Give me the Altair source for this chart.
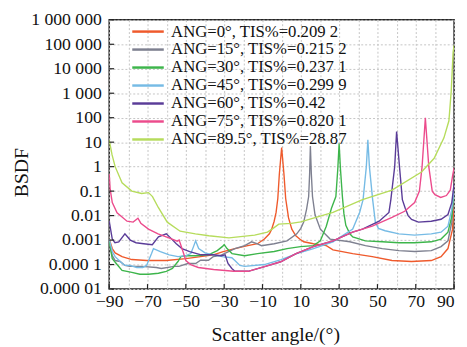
import altair as alt
import pandas as pd

# ---------------- data ----------------
series_labels = [
    "ANG=0°, TIS%=0.209 2",
    "ANG=15°, TIS%=0.215 2",
    "ANG=30°, TIS%=0.237 1",
    "ANG=45°, TIS%=0.299 9",
    "ANG=60°, TIS%=0.42",
    "ANG=75°, TIS%=0.820 1",
    "ANG=89.5°, TIS%=28.87",
]
series_colors = ["#EF5A2C", "#7E8090", "#3DB54B", "#76BBE5", "#5A3C98", "#EC4B8C", "#B6DC5C"]

ang0_x = [-90, -88.4, -86.9, -83.3, -78.2, -70.5, -60.2, -50, -42.3, -35.7, -30.5, -24.4, -17.7, -12.6, -9,
          -6.4, -5.2, -3.9, -2.9, -2, -1.2, 0, 1.2, 2.1, 3.6, 5.3, 7.4, 9.4, 11.5, 16.6, 23.3, 26.8, 37.1,
          47.3, 57.6, 67.8, 78.1, 83.2, 86.8, 89.2, 90]
ang0_y = [0.0011, 0.00045, 0.0003, 0.00021, 0.00016, 0.000146, 0.000146, 0.000175, 0.00021, 0.00025, 0.00034,
          0.00045, 0.00059, 0.00071, 0.0011, 0.0018, 0.0028, 0.0059, 0.0135, 0.05, 0.5, 6, 0.5, 0.05, 0.008,
          0.0028, 0.0015, 0.0011, 0.00085, 0.00071, 0.00059, 0.0004, 0.00028, 0.00021, 0.000146, 0.000133,
          0.000146, 0.00021, 0.00045, 0.0028, 0.034]

ang15_x = [-90, -88.4, -86.9, -84.3, -81.8, -79.2, -73.1, -65.4, -62.8, -56.1, -53.6, -49, -44.9, -42.3, -38.2,
           -35.7, -32.1, -24.4, -19.3, -15.7, -12.6, -10.5, -3.9, 2.8, 7.9, 10, 11.5, 13, 14.1, 14.6, 15, 15.5,
           16.1, 17.4, 20.2, 25.3, 35.6, 43.7, 52.5, 61.2, 69.4, 78.1, 83.2, 86.8, 88.8, 90]
ang15_y = [0.0008, 0.00023, 0.000146, 0.000133, 9.2e-5, 8.4e-5, 8.4e-5, 7.6e-5, 6.9e-5, 8.4e-5, 8.4e-5, 0.00011,
           0.00011, 0.00015, 0.00015, 0.00021, 0.00023, 0.00045, 0.00059, 0.00085, 0.0007, 0.00059, 0.00071,
           0.00093, 0.0018, 0.003, 0.0054, 0.018, 0.06, 0.5, 7, 0.5, 0.06, 0.011, 0.0028, 0.0011, 0.00085,
           0.00059, 0.00045, 0.00037, 0.00034, 0.00037, 0.00054, 0.00093, 0.0054, 0.1]

ang30_x = [-90, -88.4, -85.9, -83.3, -78.2, -74, -69.5, -64.3, -60.2, -57, -54.1, -52.6, -50, -44.9, -38.2,
           -33.6, -31, -30, -28.5, -25.9, -19.3, -12.6, -3.9, 2.8, 9.9, 16.6, 20.2, 23.3, 26, 28.3, 29.3, 30,
           30.7, 31.7, 32.5, 33.5, 35.6, 37.1, 43.7, 52.5, 61.2, 69.4, 78.1, 83.2, 86.8, 88.8, 90]
ang30_y = [0.0009, 0.000175, 0.0001, 5.8e-5, 4.8e-5, 4e-5, 4e-5, 4.4e-5, 5.3e-5, 6.9e-5, 0.000133, 0.00021,
           0.00023, 0.00023, 0.00025, 0.00037, 0.00054, 0.00065, 0.00045, 0.00028, 0.00023, 0.00028, 0.00034,
           0.00045, 0.00054, 0.00059, 0.00093, 0.0037, 0.02, 0.06, 0.8, 8.7, 0.8, 0.06, 0.012, 0.004, 0.0018,
           0.00135, 0.00093, 0.00085, 0.00078, 0.00078, 0.00085, 0.0011, 0.0021, 0.0093, 0.115]

ang45_x = [-90, -88.4, -86.9, -84.3, -81.8, -79.2, -75.6, -72.5, -70.5, -67.9, -66.9, -63.3, -58.7, -54.1, -50,
           -47.4, -46, -44.9, -43.3, -40, -35.7, -31, -26, -24.4, -21.8, -19.3, -9, -0.3, 7.9, 16.6, 26.8, 37.1,
           40.7, 42.5, 44.2, 45, 45.8, 47.5, 48.9, 50.5, 54, 61.2, 69.4, 78.1, 83.2, 86.8, 88.8, 90]
ang45_y = [0.0011, 0.00034, 0.00021, 0.000133, 9.2e-5, 9.2e-5, 7.6e-5, 7.6e-5, 9.2e-5, 0.00028, 0.00045,
           0.00034, 0.00025, 0.00021, 0.00023, 0.00028, 0.00054, 0.00093, 0.00045, 0.0003, 0.00025, 0.00021,
           0.00019, 0.000146, 9.2e-5, 8.4e-5, 0.0001, 0.00016, 0.00028, 0.00045, 0.00085, 0.0028, 0.0135, 0.045,
           1, 12.6, 1, 0.045, 0.0054, 0.003, 0.0024, 0.0018, 0.0016, 0.0018, 0.0021, 0.0037, 0.018, 0.115]

ang60_x = [-90, -88.4, -87, -85, -81.8, -79, -76, -72, -67.5, -64.3, -60.2, -58, -55, -52, -48, -42, -35.7,
           -31.5, -29.5, -28, -26, -24.4, -17.5, -8.5, -0.5, 7.5, 16.5, 26.8, 37, 42.2, 50.9, 56, 57, 59, 60,
           61.5, 63, 64.5, 66, 67.8, 71.4, 78.1, 83.2, 86.8, 88.8, 90]
ang60_y = [0.006, 0.0011, 0.00078, 0.00085, 0.0018, 0.001, 0.00078, 0.00071, 0.00065, 0.00135, 0.0018, 0.00123,
           0.00071, 0.00045, 0.00034, 0.00025, 0.00025, 0.00023, 0.00025, 0.00011, 6.9e-5, 5.3e-5, 5.3e-5,
           8.4e-5, 0.00013, 0.00028, 0.00054, 0.00093, 0.0021, 0.0028, 0.0059, 0.0135, 0.045, 1, 27, 1, 0.045,
           0.02, 0.01, 0.007, 0.0054, 0.0059, 0.0071, 0.011, 0.034, 0.2]

ang75_x = [-90, -89.5, -88.4, -85.9, -80.7, -77.5, -75, -73.5, -69.5, -64.5, -58.5, -54.5, -53.5, -51.5, -50,
           -47.5, -43.5, -35.5, -25, -17.5, -8.5, -0.5, 7.5, 16.5, 26.8, 37, 47.3, 57.6, 64.2, 69.4, 71.9, 73.3,
           75, 76.8, 78.6, 80, 83, 86, 88, 89.3, 90]
ang75_y = [0.5, 0.12, 0.034, 0.013, 0.0059, 0.0054, 0.0078, 0.0049, 0.0028, 0.0018, 0.0012, 0.0009, 0.001,
           0.00034, 0.000146, 0.0001, 7.6e-5, 6.3e-5, 5.3e-5, 5.3e-5, 8.4e-5, 0.00013, 0.00028, 0.00054, 0.00093,
           0.0021, 0.0037, 0.0085, 0.015, 0.034, 0.1, 1, 98, 1, 0.1, 0.072, 0.055, 0.066, 0.11, 0.46, 0.9]

ang895_x = [-90, -88.5, -86.9, -83.3, -78.2, -73.1, -69.5, -67.4, -64.3, -59.7, -53, -45, -38, -27.5, -14.1,
            -7.4, -5, -1.5, 5, 10, 13, 26.8, 42.2, 57.6, 73, 79.6, 84.7, 87.3, 88.5, 89.5, 90]
ang895_y = [12, 3, 1, 0.22, 0.1, 0.08, 0.087, 0.06, 0.021, 0.0054, 0.0023, 0.0018, 0.0015, 0.00123, 0.0016,
            0.0021, 0.0028, 0.0045, 0.0048, 0.0055, 0.0065, 0.0135, 0.045, 0.11, 0.6, 2.2, 15, 75, 1200, 48000,
            90000]

x_grid_values = [-90, -80, -70, -60, -50, -40, -30, -20, -10, 0, 10, 20, 30, 40, 50, 60, 70, 80, 90]
x_tick_values = [-90, -70, -50, -30, -10, 10, 30, 50, 70, 90]
y_tick_values = [1e-5, 1e-4, 1e-3, 1e-2, 1e-1, 1, 10, 100, 1e3, 1e4, 1e5, 1e6]
y_tick_labels = ["0.000 01", "0.000 1", "0.001", "0.01", "0.1", "1", "10", "100",
                 "1 000", "10 000", "100 000", "1 000 000"]

# ---------------- table ----------------
all_x = [ang0_x, ang15_x, ang30_x, ang45_x, ang60_x, ang75_x, ang895_x]
all_y = [ang0_y, ang15_y, ang30_y, ang45_y, ang60_y, ang75_y, ang895_y]
rows = []
for lab, xs, ys in zip(series_labels, all_x, all_y):
    assert len(xs) == len(ys), lab
    for a, b in zip(xs, ys):
        rows.append({"series": lab, "angle": a, "bsdf": b})
df = pd.DataFrame(rows)

W, H = 351, 274
FONT = "Liberation Serif"

x_scale = alt.Scale(domain=[-90, 90], nice=False, zero=False)
y_scale = alt.Scale(type="log", domain=[1e-5, 1e6], nice=False)

x_label_expr = ("indexof(" + str(x_tick_values) + ", datum.value) >= 0 ? "
                "(datum.value < 0 ? '\u2212' + abs(datum.value) : '' + datum.value) : ''")
y_label_expr = ("[" + ",".join("'" + s + "'" for s in y_tick_labels) + "]"
                "[round(log(datum.value) / LN10) + 5]")

x_axis = alt.Axis(values=x_grid_values, labelExpr=x_label_expr, title="Scatter angle/(°)",
                  grid=True, ticks=False, domain=False, labelFlush=False, labelOverlap=False,
                  labelAlign={"condition": {"test": "datum.value == 90", "value": "right"}, "value": "center"},
                  labelPadding=4, labelFontSize=18, labelFont=FONT, labelColor="#111",
                  titleFont=FONT, titleFontSize=20, titleFontWeight="normal", titleColor="#111",
                  titleX=169, titleY=52, titleAlign="center", titleBaseline="alphabetic")
y_axis = alt.Axis(values=y_tick_values, labelExpr=y_label_expr, title="BSDF",
                  grid=True, ticks=False, domain=False, labelFlush=False,
                  labelOverlap=False, labelPadding=8, labelFontSize=18, labelFont=FONT,
                  labelColor="#111", labelBaseline="middle",
                  titleFont=FONT, titleFontSize=20, titleFontWeight="normal", titleColor="#111",
                  titleAngle=270, titleX=-89, titleY=155, titleAlign="center",
                  titleBaseline="middle")

lines = alt.Chart(df).mark_line(strokeWidth=1.4, clip=True).encode(
    x=alt.X("angle:Q", scale=x_scale, axis=x_axis),
    y=alt.Y("bsdf:Q", scale=y_scale, axis=y_axis),
    color=alt.Color("series:N", sort=series_labels,
                    scale=alt.Scale(domain=series_labels, range=series_colors),
                    legend=alt.Legend(title=None, orient="none", legendX=31, legendY=3.5, padding=0,
                                      symbolType="M-2.29,0H2.29", symbolSize=196, symbolStrokeWidth=2.5,
                                      symbolOffset=0, labelOffset=15, rowPadding=0.3,
                                      labelFont=FONT, labelFontSize=17, labelColor="#111",
                                      labelLimit=400)),
)

xticks_df = pd.DataFrame({"angle": x_tick_values})
xticks = alt.Chart(xticks_df).mark_rule(color="#222", strokeWidth=1.2).encode(
    x=alt.X("angle:Q", scale=x_scale, axis=x_axis),
    y=alt.value(H - 5), y2=alt.value(H),
)
yticks_df = pd.DataFrame({"bsdf": y_tick_values})
yticks = alt.Chart(yticks_df).mark_rule(color="#222", strokeWidth=1.2).encode(
    y=alt.Y("bsdf:Q", scale=y_scale, axis=y_axis),
    x=alt.value(0), x2=alt.value(5),
)

chart = alt.layer(lines, xticks, yticks).properties(
    width=W, height=H,
    padding={"left": 103, "top": 9, "right": 5, "bottom": 56},
    autosize=alt.AutoSizeParams(type="none"),
    background="white",
).configure_view(
    stroke="#222", strokeWidth=1.5
).configure_axis(
    gridColor="#c4c4c4", gridDash=[2, 2], gridWidth=1
)

chart.save("out.html", embed_options={"renderer": "svg", "actions": False})
